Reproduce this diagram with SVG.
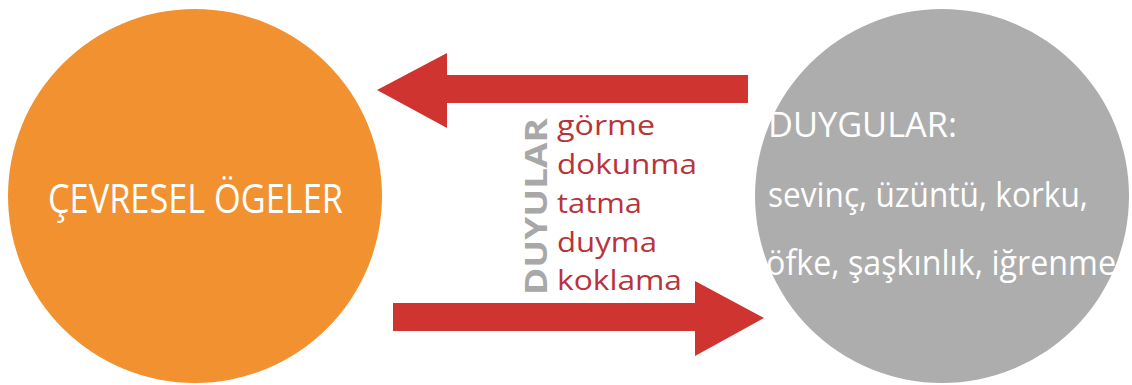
<svg xmlns="http://www.w3.org/2000/svg" width="1132" height="385" viewBox="0 0 1132 385">
<style>
.w{fill:#ffffff;font-family:"Open Sans","Liberation Sans",sans-serif;}
.r{fill:#B8343A;font-family:"Open Sans","Liberation Sans",sans-serif;font-size:27px;}
.arrow{fill:#CF3430;}
</style>
<rect width="1132" height="385" fill="#ffffff"/>
<g id="cevresel">
<circle cx="195" cy="196" r="187" fill="#F29130"/>
<text class="w" x="48" y="213" font-size="40" textLength="295" lengthAdjust="spacingAndGlyphs">ÇEVRESEL ÖGELER</text>
</g>
<g id="duygular">
<circle cx="942" cy="196" r="187" fill="#ADADAD"/>
<text class="w" x="768" y="137" font-size="35" textLength="189" lengthAdjust="spacingAndGlyphs">DUYGULAR:</text>
<text class="w" x="768" y="207" font-size="35" textLength="320" lengthAdjust="spacingAndGlyphs">sevinç, üzüntü, korku,</text>
<text class="w" x="766" y="275" font-size="35" textLength="350" lengthAdjust="spacingAndGlyphs">öfke, şaşkınlık, iğrenme</text>
</g>
<g id="connectors">
<polygon class="arrow" points="748,75 447,75 447,53 377,90 447,128 447,103 748,103"/>
<polygon class="arrow" points="393,303 695,303 695,281 764,318 695,356 695,331 393,331"/>
</g>
<g id="duyular">
<text transform="translate(547,295) rotate(-90)" x="0" y="0" fill="#A8A8A8" font-family="'Open Sans','Liberation Sans',sans-serif" font-weight="bold" font-size="30" textLength="177" lengthAdjust="spacingAndGlyphs">DUYULAR</text>
<text class="r" x="557" y="135" textLength="98" lengthAdjust="spacingAndGlyphs">görme</text>
<text class="r" x="557" y="174" textLength="140" lengthAdjust="spacingAndGlyphs">dokunma</text>
<text class="r" x="557" y="213" textLength="85" lengthAdjust="spacingAndGlyphs">tatma</text>
<text class="r" x="557" y="252" textLength="100" lengthAdjust="spacingAndGlyphs">duyma</text>
<text class="r" x="557" y="290" textLength="125" lengthAdjust="spacingAndGlyphs">koklama</text>
</g>
</svg>
